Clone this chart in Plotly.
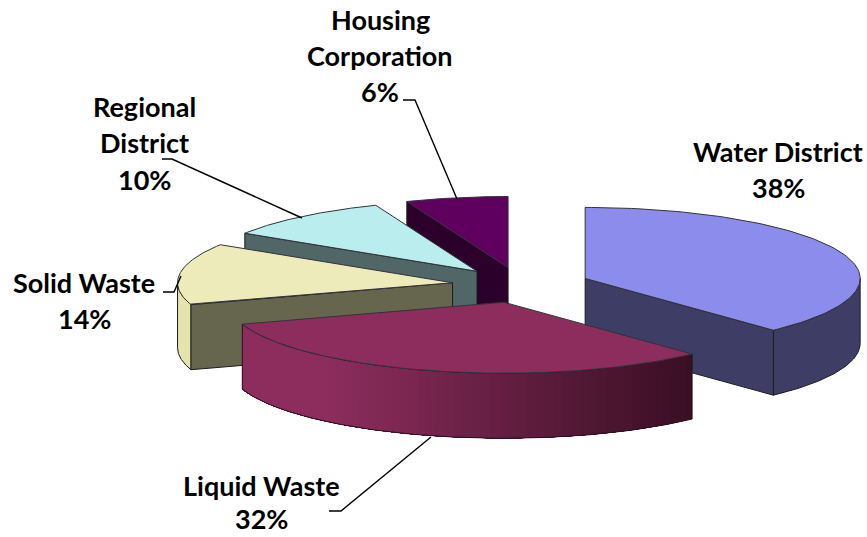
import numpy as np
import plotly.graph_objects as go

categories = ["Water District", "Liquid Waste", "Solid Waste", "Regional District", "Housing Corporation"]
shares = [38, 32, 14, 10, 6]
label_lines = [["Water District", "38%"], ["Liquid Waste", "32%"], ["Solid Waste", "14%"],
               ["Regional", "District", "10%"], ["Housing", "Corporation", "6%"]]
top_colors = ["#8C8CEC", "#8C2D5D", "#EDEBB9", "#BAEDED", "#5F005F"]
wall_colors = ["#3D3D66", "#8C2D5D", "#66664F", "#516666", "#2B002B"]
outer_colors = ["#3D3D66", None, "#E6E4AE", "#516666", "#2B002B"]

# projection of the tilted pie onto the page (pixels)
CX, CY, RX, RY, EXPLODE, DEPTH = 521, 285, 275, 71, 69, 65
label_pos = [(778, [151, 187]), (261, [485, 518]), (84, [282, 318]), (144, [106, 142, 179]), (380, [19, 55, 91])]
leaders = [None,
           ([329, 341, 431], [511, 511, 437]),
           ([163, 174, 181], [292, 292, 276]),
           ([162, 172, 302], [159, 159, 218]),
           ([403, 415, 457], [100, 100, 199])]

fracs = np.array(shares) / sum(shares)
ends = np.cumsum(fracs) * 2 * np.pi
starts = ends - fracs * 2 * np.pi
fig = go.Figure()


def poly(xs, ys, fill, line="#1c1c1c", width=1):
    fig.add_trace(go.Scatter(x=list(xs), y=list(ys), mode="lines", fill="toself", fillcolor=fill,
                             line=dict(color=line if line else fill, width=width), hoverinfo="skip", showlegend=False))


def apex(i):
    mid = (starts[i] + ends[i]) / 2
    return CX + EXPLODE * np.sin(mid), CY - EXPLODE * RY / RX * np.cos(mid)


def rim(i, a, b, n=60):
    ax, ay = apex(i)
    t = np.linspace(a, b, n)
    return ax + RX * np.sin(t), ay - RY * np.cos(t)


def radial_wall(i, angle):
    ax, ay = apex(i)
    px, py = rim(i, angle, angle, 1)
    poly([ax, px[0], px[0], ax, ax], [ay, py[0], py[0] + DEPTH, ay + DEPTH, ay], wall_colors[i])


def outer_wall(i, a, b, color):
    x, y = rim(i, a, b)
    poly(np.r_[x, x[::-1], x[0]], np.r_[y, y[::-1] + DEPTH, y[0]], color)


def top(i):
    ax, ay = apex(i)
    x, y = rim(i, starts[i], ends[i], 100)
    poly(np.r_[ax, x, ax], np.r_[ay, y, ay], top_colors[i], line="#33333a")


def mix(c1, c2, t):
    a = [int(c1[k:k + 2], 16) for k in (1, 3, 5)]
    b = [int(c2[k:k + 2], 16) for k in (1, 3, 5)]
    return "rgb(%d,%d,%d)" % tuple(round(p + (q - p) * t) for p, q in zip(a, b))


# back to front: Housing, Regional, Solid, Water, Liquid
radial_wall(4, starts[4]); top(4)
radial_wall(3, starts[3]); top(3)
outer_wall(2, starts[2], 1.5 * np.pi, outer_colors[2]); radial_wall(2, starts[2]); top(2)
outer_wall(0, 0.5 * np.pi, ends[0], outer_colors[0]); radial_wall(0, ends[0]); top(0)

# Liquid Waste: shaded outer wall, painted as overlapping strips from right to left
N = 60
edges = np.linspace(starts[1], ends[1], N + 1)
ax1, _ = apex(1)
for k in range(N):
    x, y = rim(1, edges[k], ends[1], 80)
    xm = ax1 + RX * np.sin(edges[k])
    t = ((ax1 + RX * 0.6845) - xm) / (RX * 0.6845 + RX * 0.62)
    shade = mix("#3A0F24", "#8C2D5D", min(1, max(0, t)))
    fig.add_trace(go.Scatter(x=np.r_[x, x[::-1], x[0]], y=np.r_[y, y[::-1] + DEPTH, y[0]], mode="none", fill="toself",
                             fillcolor=shade, hoverinfo="skip", showlegend=False))
x, y = rim(1, starts[1], ends[1], 120)
fig.add_trace(go.Scatter(x=np.r_[x, x[-1], x[::-1], x[0], x[0]], y=np.r_[y, y[-1] + DEPTH, y[::-1] + DEPTH, y[0] + DEPTH, y[0]],
                         mode="lines", line=dict(color="#2a1020", width=1), hoverinfo="skip", showlegend=False))
top(1)

for lead in leaders:
    if lead:
        fig.add_trace(go.Scatter(x=lead[0], y=lead[1], mode="lines", line=dict(color="#000", width=1.4),
                                 hoverinfo="skip", showlegend=False))

for lines, (lx, lys) in zip(label_lines, label_pos):
    for text, ly in zip(lines, lys):
        fig.add_annotation(x=lx, y=ly, text=text, showarrow=False, xanchor="center", yanchor="middle",
                           font=dict(family="Lato", size=27, color="#000", weight="bold"))

fig.update_layout(width=867, height=537, margin=dict(l=0, r=0, t=0, b=0), autosize=False,
                  paper_bgcolor="#fff", plot_bgcolor="#fff", showlegend=False,
                  xaxis=dict(range=[0, 867], visible=False, fixedrange=True),
                  yaxis=dict(range=[537, 0], visible=False, fixedrange=True))
fig.write_html("out.html", config=dict(displayModeBar=False),
               post_script="document.body.style.margin='0';document.documentElement.style.overflow='hidden';")
